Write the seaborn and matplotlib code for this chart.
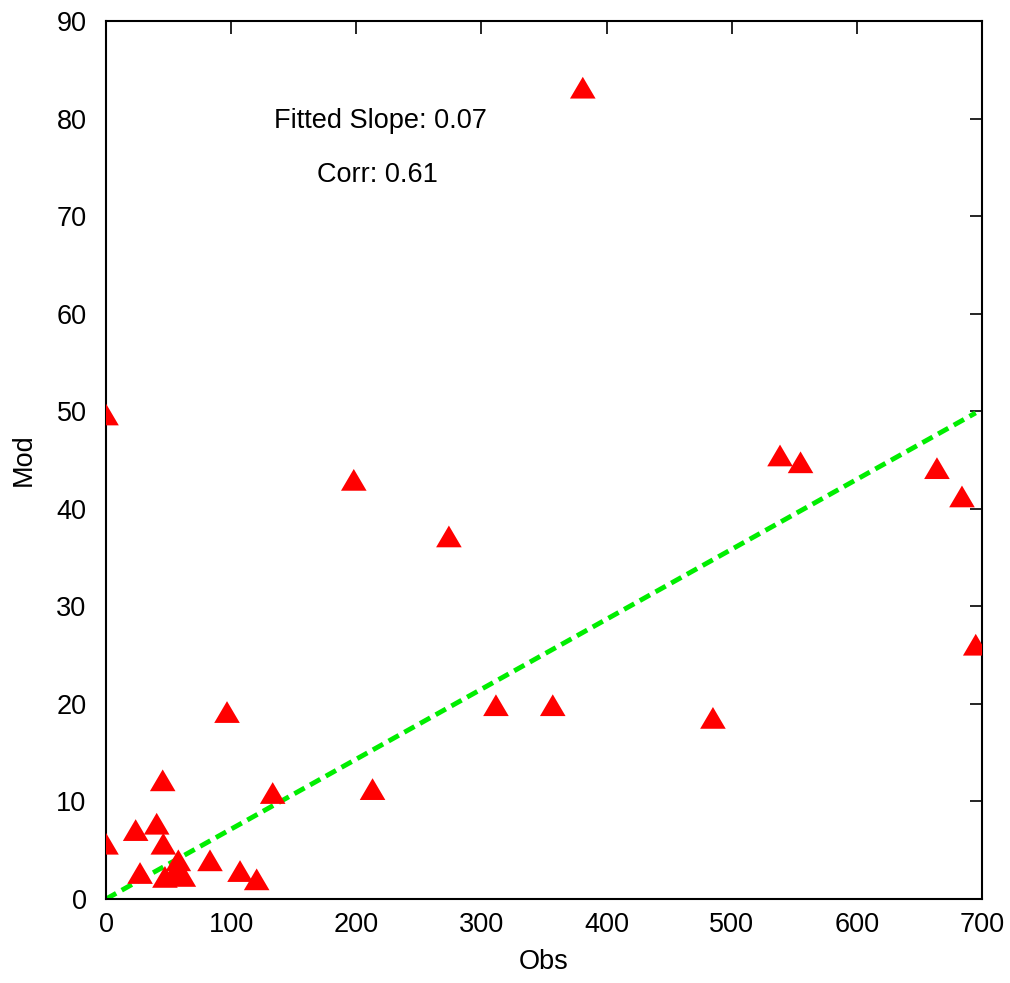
import matplotlib
matplotlib.use("Agg")
import matplotlib.pyplot as plt
import seaborn as sns
import numpy as np
import pandas as pd

obs = [0, 0, 45.3, 133.2, 23.7, 40.5, 45.8, 57.8, 83.1, 27.2, 47.1, 61.8, 55.0,
       107.1, 120.4, 96.7, 198.0, 274.0, 381.0, 213.0, 311.6, 357.0, 485.0,
       538.6, 555.0, 664.0, 684.0, 695.0]
mod = [49.6, 5.6, 12.1, 10.8, 7.0, 7.65, 5.6, 3.9, 3.9, 2.6, 2.2, 2.3, 2.7,
       2.8, 1.95, 19.1, 42.9, 37.1, 83.1, 11.2, 19.8, 19.8, 18.5,
       45.4, 44.7, 44.1, 41.2, 26.0]
fit_slope = 0.0717
fit_x = [0, 695]
slope_label = "Fitted Slope: 0.07"
corr_label = "Corr: 0.61"

sns.set_style("white")
plt.rcParams['font.family'] = ['Liberation Sans', 'DejaVu Sans']
plt.rcParams['text.color'] = 'black'
plt.rcParams['axes.labelcolor'] = 'black'

FS = 19.5

fig = plt.figure(figsize=(10.1, 9.83), dpi=100)
ax = fig.add_axes([106/1010, 84/983, 876/1010, 878/983])

df = pd.DataFrame({"Obs": obs, "Mod": mod})
fit_df = pd.DataFrame({"x": fit_x, "y": [fit_slope * v for v in fit_x]})

sns.lineplot(data=fit_df, x="x", y="y", ax=ax, color="#00ee00", linewidth=3.5,
             dashes=False, zorder=2)
ax.lines[-1].set_dashes([2.4, 1.3])

tri = [(-1, -0.8), (1, -0.8), (0, 0.9), (-1, -0.8)]
sns.scatterplot(data=df, x="Obs", y="Mod", ax=ax, marker=tri, s=340,
                color="#ff0000", edgecolor="none", linewidth=0, zorder=3)

ax.set_xlim(0, 700)
ax.set_ylim(0, 90)
ax.set_xticks(range(0, 701, 100))
ax.set_yticks(range(0, 91, 10))
ax.tick_params(direction="in", length=9, width=1.2, top=True, right=True,
               labelsize=FS, colors="black")
ax.tick_params(axis="x", pad=9)
ax.tick_params(axis="y", pad=14)
for sp in ax.spines.values():
    sp.set_visible(True)
    sp.set_color("black")
    sp.set_linewidth(1.5)
ax.set_xlabel("Obs", fontsize=FS, labelpad=8)
ax.set_ylabel("Mod", fontsize=FS, labelpad=14)

ax.text(219, 79.8, slope_label, ha="center", va="center", fontsize=FS)
ax.text(217, 74.2, corr_label, ha="center", va="center", fontsize=FS)

fig.savefig("out.png", dpi=100)
